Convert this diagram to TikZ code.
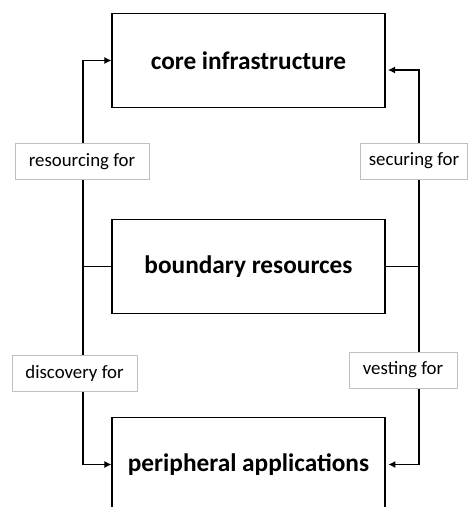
\documentclass[tikz,border=0pt]{standalone}
\usepackage{fontspec}
\setmainfont{Carlito}
\usetikzlibrary{arrows.meta}

\tikzset{
    layerbox/.style = {rectangle, draw, line width=0.8pt, minimum width=6.825cm, minimum height=2.35cm, font=\fontsize{18}{21}\selectfont\bfseries},
    relbox/.style = {rectangle, draw=gray!50, line width=0.5pt, fill=white, minimum height=0.9cm, inner sep=0pt, font=\fontsize{13.4}{15}\selectfont},
    link/.style = {line width=0.8pt},
    linkarrow/.style = {link, -{Latex[length=5pt,width=5pt]}}
}

\begin{document}
\begin{tikzpicture}[x=0.025cm, y=-0.025cm]
            \useasboundingbox (0, 0) rectangle (468, 507);

            \node[layerbox] (core) at (248.5, 60.5) {core infrastructure};
            \node[layerbox] (boundary) at (248.5, 266.5) {boundary resources};
            \node[layerbox] (peripheral) at (248.5, 464.5) {peripheral applications};

            \coordinate (leftjoin) at (83, 266.5);
            \coordinate (rightjoin) at (419, 266.5);
            \coordinate (coreright) at (388, 70);

            % left side
            \draw[link] (boundary.west) -- (leftjoin);
            \draw[linkarrow] (leftjoin) |- (core.west);
            \draw[linkarrow] (leftjoin) |- (peripheral.west);

            % right side
            \draw[link] (boundary.east) -- (rightjoin);
            \draw[linkarrow] (rightjoin) |- (coreright);
            \draw[linkarrow] (rightjoin) |- ([xshift=2pt]peripheral.east);

            \node[relbox, minimum width=3.35cm] (resourcing) at (82, 161.5) {resourcing for};
            \node[relbox, minimum width=2.675cm] (securing) at (414, 161) {securing for};
            \node[relbox, minimum width=3.125cm] (discovery) at (74.5, 373.5) {discovery for};
            \node[relbox, minimum width=2.7cm] (vesting) at (403, 370) {vesting for};
        \end{tikzpicture}
\end{document}
